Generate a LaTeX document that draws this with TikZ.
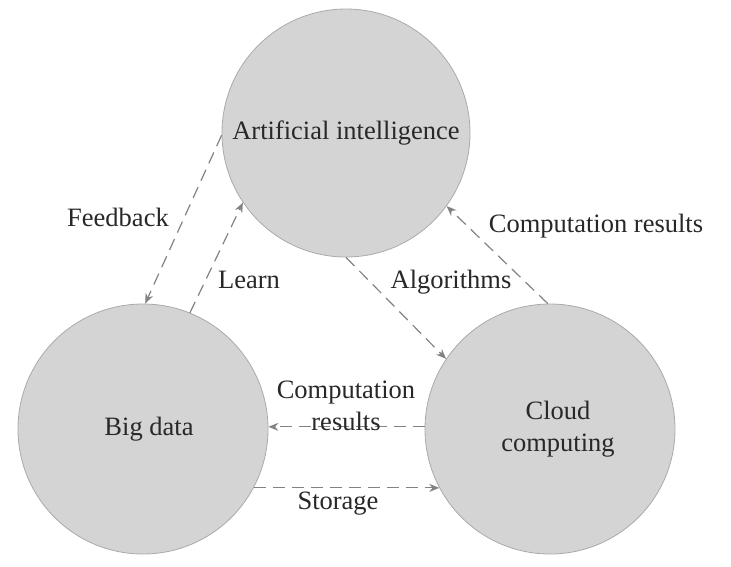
\documentclass[tikz,border=0pt]{standalone}
\usepackage{fontspec}
\setmainfont{Liberation Serif}
\usetikzlibrary{arrows.meta}
\definecolor{circfill}{RGB}{212,212,212}
\definecolor{circline}{RGB}{170,170,170}
\definecolor{arrowcol}{RGB}{130,130,130}
\definecolor{txt}{RGB}{40,40,40}
\begin{document}
\begin{tikzpicture}[x=1pt,y=-1pt,
  blob/.style={circle,draw=circline,fill=circfill,line width=0.8pt,inner sep=0pt,align=center,text=txt,font=\fontsize{26.5}{32}\selectfont},
  flow/.style={draw=arrowcol,line width=1.2pt,dash pattern=on 12pt off 7pt,-{Stealth[length=10pt,width=8pt]}},
  lbl/.style={text=txt,font=\fontsize{26.5}{32}\selectfont,align=center,inner sep=1pt}]
\useasboundingbox (0,0) rectangle (731,566);
\node[blob,minimum size=248pt] (ai) at (346,133) {Artificial intelligence};
\node[blob,minimum size=250pt] (bd) at (143,429) {\hspace*{12pt}Big data};
\node[blob,minimum size=250pt] (cc) at (550,429) {\hspace*{16pt}Cloud\\\hspace*{16pt}computing};
\draw[flow] (ai.181) -- (bd.89);
\draw[flow] (bd.68) -- (ai.214);
\draw[flow] (ai.270) -- (cc.146);
\draw[flow] (cc.91) -- (ai.324);
\draw[flow] (cc.179) -- (bd.1);
\draw[flow] (bd.-28) -- (cc.208);
\node[lbl] (fb) at (118,217) {Feedback};
\node[lbl] (ln) at (249,280) {Learn};
\node[lbl] (al) at (451,282) {Algorithms};
\node[lbl] (cr1) at (596,226) {Computation results};
\node[lbl] (cr2) at (346,406) {Computation\\results};
\node[lbl] (st) at (338,504) {Storage};
\end{tikzpicture}
\end{document}
